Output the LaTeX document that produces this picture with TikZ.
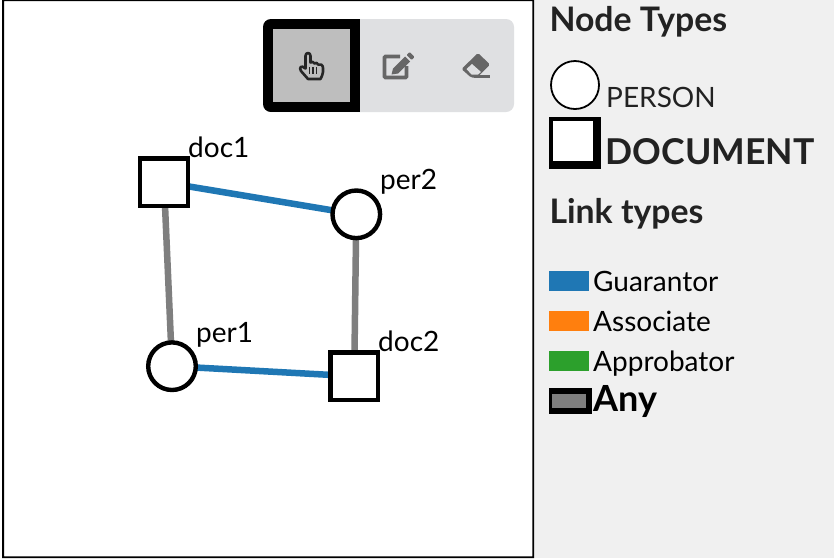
\documentclass[tikz,border=0pt]{standalone}
\usepackage{fontspec}
\setmainfont{Lato}
\definecolor{guar}{HTML}{1F77B4}
\definecolor{asso}{HTML}{FF7F0E}
\definecolor{appr}{HTML}{2CA02C}
\definecolor{anyc}{HTML}{7F7F7F}
\definecolor{panel}{HTML}{F0F0F0}
\definecolor{tool}{HTML}{DFE0E2}
\definecolor{toolsel}{HTML}{BEBEBE}
\definecolor{icon}{HTML}{666666}
\definecolor{ink}{HTML}{222222}
\pgfdeclarelayer{nodelayer}
\pgfsetlayers{main,nodelayer}
\tikzset{
  x=1pt,y=-1pt,
  persontype/.style={circle,draw=black,fill=white,line width=4.4pt,minimum size=47.6pt,inner sep=0pt,outer sep=0pt},
  doctype/.style={rectangle,draw=black,fill=white,line width=4.4pt,minimum size=47.6pt,inner sep=0pt,outer sep=0pt},
  glabel/.style={anchor=base west,inner sep=0pt,font=\fontsize{28}{30}\selectfont,text=black},
  guarlink/.style={draw=guar,line width=6.5pt},
  anylink/.style={draw=anyc,line width=6.5pt},
  heading/.style={anchor=base west,inner sep=0pt,font=\fontsize{33.8}{36}\selectfont\bfseries,text=ink},
  swatch/.style={anchor=north west,minimum width=40pt,minimum height=20pt,inner sep=0pt,outer sep=0pt},
  linklabel/.style={anchor=base west,inner sep=0pt,font=\fontsize{28}{30}\selectfont,text=black},
}
\begin{document}
\begin{tikzpicture}
\useasboundingbox (0,0) rectangle (834,558);
\fill[white] (0,0) rectangle (834,558);
\fill[panel] (534,0) rectangle (834,558);
\fill[black,even odd rule] (2,0) rectangle (534,558) (4,1.2) rectangle (532.3,556.3);
% toolbar
\fill[tool,rounded corners=8pt] (263,19) rectangle (514,112);
\begin{scope}
\clip[rounded corners=8pt] (263,19) rectangle (514,112);
\fill[black] (263,19) rectangle (360,112);
\end{scope}
\fill[toolsel] (273,29) rectangle (350,102);
% hand icon
\draw[black!85,line width=2.6pt,line join=round]
 (305.5,65) -- (305.5,56) .. controls (305.5,52) and (310.5,52) .. (310.5,56) -- (310.5,62.5)
 .. controls (312,61.5) and (313.5,61.5) .. (314.5,63.5) .. controls (316,62.5) and (317.5,62.5) .. (318,64.5)
 .. controls (320.5,63.5) and (323,65) .. (323,68) -- (323,72) .. controls (323,74.5) and (321.5,76.5) .. (320.5,79)
 -- (308,79) -- (301,71) .. controls (298.5,67.5) and (301.5,64.5) .. (305.5,68.5) -- cycle;
\draw[black!85,line width=1.3pt] (309.5,67) -- (309.5,74) (313,67) -- (313,74) (316.5,67) -- (316.5,74);
% edit icon
\draw[icon,line width=3.6pt,rounded corners=1pt] (400,56.5) -- (384.5,56.5) -- (384.5,77.5) -- (406.5,77.5) -- (406.5,66);
\fill[icon] (393,68.5) -- (405,56.5) -- (410,61.5) -- (398,73.5) -- (391.5,74.5) -- cycle;
\fill[icon,rounded corners=1pt] (406.5,55) -- (409.5,52) -- (414.5,57) -- (411.5,60) -- cycle;
% eraser icon
\fill[icon,rounded corners=1.5pt] (461.5,69) -- (478,53) -- (490,64.5) -- (477,77.5) -- (471,77.5) -- cycle;
\fill[tool] (466.5,69) -- (472,64) -- (481,72) -- (478,74.5) -- (471.5,74.5) -- cycle;
\fill[icon] (474,75) rectangle (489.5,78);
% graph
\begin{pgfonlayer}{nodelayer}
\node[doctype] (doc1) at (164,182.3) {};
\node[persontype] (per2) at (356.3,214.3) {};
\node[persontype] (per1) at (172,366.2) {};
\node[doctype] (doc2) at (354.2,376.2) {};
\end{pgfonlayer}
\draw[guarlink] (doc1) -- (per2);
\draw[anylink] (doc1) -- (per1);
\draw[anylink] (per2) -- (doc2);
\draw[guarlink] (per1) -- (doc2);
\node[glabel] (ldoc1) at (188,157) {doc1};
\node[glabel] (lper2) at (380,189) {per2};
\node[glabel] (lper1) at (196,342) {per1};
\node[glabel] (ldoc2) at (378,351) {doc2};
% legend
\node[heading] (h1) at (549.3,31.5) {Node Types};
\node[circle,draw=black,fill=white,line width=1.8pt,minimum size=48pt,inner sep=0pt] (lp) at (575,85) {};
\node[anchor=base west,inner sep=0pt,font=\fontsize{28}{30}\selectfont,text=ink] (lpt) at (606,107) {PERSON};
\fill[black] (549,117) rectangle (600.7,169);
\node[anchor=north west,fill=white,minimum width=40.3pt,minimum height=40pt,inner sep=0pt,outer sep=0pt] (ld) at (552.7,121) {};
\node[anchor=base west,inner sep=0pt,font=\fontsize{35.6}{40}\selectfont\bfseries,text=ink] (ldt) at (605.5,164) {DOCUMENT};
\node[heading] (h2) at (549.3,223.5) {Link types};
\node[swatch,fill=guar] (s1) at (549,271) {};
\node[linklabel] (t1) at (593,291) {Guarantor};
\node[swatch,fill=asso] (s2) at (549,311) {};
\node[linklabel] (t2) at (593,331) {Associate};
\node[swatch,fill=appr] (s3) at (549,351) {};
\node[linklabel] (t3) at (593,371) {Approbator};
\fill[black] (549,388) rectangle (592,414);
\node[anchor=north west,fill=anyc,minimum width=34pt,minimum height=14pt,inner sep=0pt,outer sep=0pt] (s4) at (552,394) {};
\node[anchor=base west,inner sep=0pt,font=\fontsize{36}{40}\selectfont\bfseries,text=black] (t4) at (593,411) {Any};
\end{tikzpicture}
\end{document}
